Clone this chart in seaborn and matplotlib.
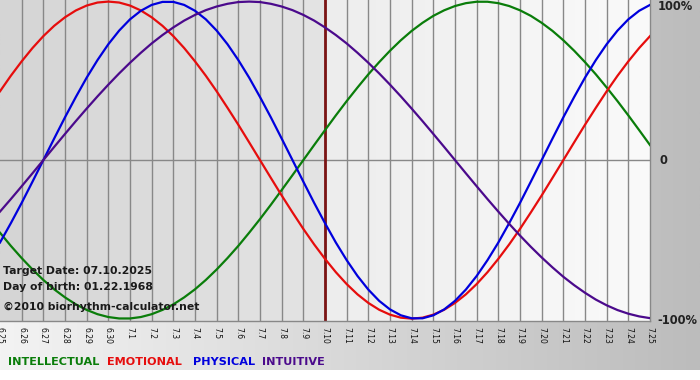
import numpy as np
import pandas as pd
import matplotlib
matplotlib.use('Agg')
import matplotlib.pyplot as plt
import matplotlib.patches as patches
from matplotlib.colors import LinearSegmentedColormap
import seaborn as sn

# day labels on the x axis (6.25 .. 7.25)
days=['6.25','6.26','6.27','6.28','6.29','6.30','7.1','7.2','7.3','7.4','7.5','7.6','7.7','7.8','7.9',
      '7.10','7.11','7.12','7.13','7.14','7.15','7.16','7.17','7.18','7.19','7.20','7.21','7.22','7.23','7.24','7.25']
target='7.10'

# cycle values every half day (fraction of 100%)
physical=[-0.520,-0.398,-0.270,-0.136,0.000,0.136,0.270,0.398,0.520,0.631,0.731,0.817,0.888,0.942,0.979,0.998,
          0.998,0.979,0.942,0.888,0.817,0.731,0.631,0.520,0.398,0.270,0.136,0.000,-0.136,-0.270,-0.398,-0.520,
          -0.631,-0.731,-0.817,-0.888,-0.942,-0.979,-0.998,-0.998,-0.979,-0.942,-0.888,-0.817,-0.731,-0.631,-0.520,
          -0.398,-0.270,-0.136,0.000,0.136,0.270,0.398,0.520,0.631,0.731,0.817,0.888,0.942,0.979]
emotional=[0.434,0.532,0.623,0.707,0.782,0.847,0.901,0.944,0.975,0.994,1.000,0.994,0.975,0.944,0.901,0.847,
           0.782,0.707,0.623,0.532,0.434,0.330,0.223,0.112,0.000,-0.112,-0.223,-0.330,-0.434,-0.532,-0.623,-0.707,
           -0.782,-0.847,-0.901,-0.944,-0.975,-0.994,-1.000,-0.994,-0.975,-0.944,-0.901,-0.847,-0.782,-0.707,-0.623,
           -0.532,-0.434,-0.330,-0.223,-0.112,0.000,0.112,0.223,0.330,0.434,0.532,0.623,0.707,0.782]
intellectual=[-0.458,-0.541,-0.618,-0.690,-0.756,-0.815,-0.866,-0.910,-0.945,-0.972,-0.990,-0.999,-0.999,-0.990,
              -0.972,-0.945,-0.910,-0.866,-0.815,-0.756,-0.690,-0.618,-0.541,-0.458,-0.372,-0.282,-0.189,-0.095,
              0.000,0.095,0.189,0.282,0.372,0.458,0.541,0.618,0.690,0.756,0.815,0.866,0.910,0.945,0.972,0.990,
              0.999,0.999,0.990,0.972,0.945,0.910,0.866,0.815,0.756,0.690,0.618,0.541,0.458,0.372,0.282,0.189,0.095]
intuitive=[-0.325,-0.246,-0.165,-0.083,0.000,0.083,0.165,0.246,0.325,0.402,0.476,0.547,0.614,0.677,0.736,0.789,
           0.837,0.880,0.916,0.946,0.969,0.986,0.997,1.000,0.997,0.986,0.969,0.946,0.916,0.880,0.837,0.789,
           0.736,0.677,0.614,0.547,0.476,0.402,0.325,0.246,0.165,0.083,0.000,-0.083,-0.165,-0.246,-0.325,-0.402,
           -0.476,-0.547,-0.614,-0.677,-0.736,-0.789,-0.837,-0.880,-0.916,-0.946,-0.969,-0.986,-0.997]

cycles=['INTELLECTUAL','EMOTIONAL','PHYSICAL','INTUITIVE']
colors={'INTELLECTUAL':'#0a7d0a','EMOTIONAL':'#e60d0d','PHYSICAL':'#0000dd','INTUITIVE':'#4b0a8c'}

t=np.arange(len(physical))*0.5  # half-day steps along the day axis
df=pd.concat([pd.DataFrame({'day':t,'value':v,'cycle':c})
              for c,v in zip(cycles,[intellectual,emotional,physical,intuitive])],ignore_index=True)

fig=plt.figure(figsize=(7,3.8),dpi=100)

# figure background: light-to-gray gradient, white strip at bottom
bg=fig.add_axes([0,0,1,1]) ; bg.axis('off') ; bg.set_xlim(0,1) ; bg.set_ylim(0,1)
grad=np.linspace(0,1,256).reshape(1,-1)
bg.imshow(grad,cmap=LinearSegmentedColormap.from_list('bg',['#f3f3f3','#bcbcbc']),aspect='auto',extent=[0,1,0,1])
bg.add_patch(patches.Rectangle((0,0),1,10/380,facecolor='white',edgecolor='none'))

ax=fig.add_axes([0,59/380,650/700,321/380])
ti=days.index(target)
ax.imshow(grad,cmap=LinearSegmentedColormap.from_list('past',['#d5d5d5','#e4e4e4']),aspect='auto',
          extent=[0,ti,-1.015,1.01],zorder=0)
ax.imshow(grad,cmap=LinearSegmentedColormap.from_list('fut',['#ededed','#fafafa']),aspect='auto',
          extent=[ti,len(days)-1,-1.015,1.01],zorder=0)
for d in range(1,len(days)-1):
    ax.axvline(d,color='#888888',lw=1,zorder=1)
ax.axhline(0,color='#888888',lw=1,zorder=1)

sn.lineplot(data=df,x='day',y='value',hue='cycle',palette=colors,lw=1.6,legend=False,ax=ax,zorder=3)
ax.axvline(ti,color='#7b1414',lw=2,zorder=2)

ax.set_xlim(0,len(days)-1) ; ax.set_ylim(-1.015,1.01)
ax.set_xticks(range(len(days)))
ax.set_xticklabels(days,rotation=270,fontsize=5.5,color='#111111')
ax.tick_params(axis='x',length=0,pad=4)
ax.set_yticks([])
ax.set_xlabel('') ; ax.set_ylabel('')
for s in ['left','top']:
    ax.spines[s].set_visible(False)
for s in ['right','bottom']:
    ax.spines[s].set_color('#888888') ; ax.spines[s].set_linewidth(1)

# right-hand scale labels
fig.text(658/700,(380-7)/380,'100%',fontsize=8.3,weight='bold',color='#222222',va='center',ha='left')
fig.text(659/700,(380-161)/380,'0',fontsize=8.3,weight='bold',color='#222222',va='center',ha='left')
fig.text(657/700,(380-321)/380,'-100%',fontsize=8.3,weight='bold',color='#222222',va='center',ha='left')

# info text
fig.text(3/700,(380-271)/380,'Target Date: 07.10.2025',fontsize=7.8,weight='bold',color='#1a1a1a',va='center')
fig.text(3/700,(380-287)/380,'Day of birth: 01.22.1968',fontsize=7.8,weight='bold',color='#1a1a1a',va='center')
fig.text(3/700,(380-307)/380,'\u00a92010 biorhythm-calculator.net',fontsize=7.8,weight='bold',color='#1a1a1a',va='center')

# colored legend words
for name,x in zip(cycles,[8,107,193,262]):
    fig.text(x/700,(380-362)/380,name,fontsize=8.1,weight='bold',color=colors[name],va='center')

plt.savefig('out.png',dpi=100)
plt.close()
